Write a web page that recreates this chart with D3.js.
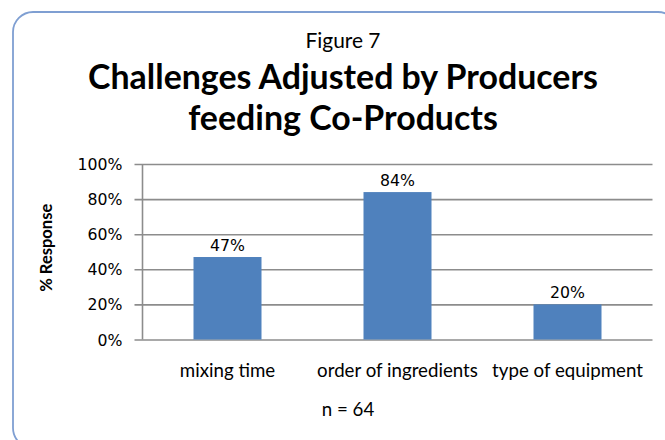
<!DOCTYPE html>
<html>
<head>
<meta charset="utf-8">
<script src="https://cdn.jsdelivr.net/npm/d3@7"></script>
<style>
  body { margin: 0; background: #fff; }
  svg { display: block; }
</style>
</head>
<body>
<div id="chart"></div>
<script>
// chart data
const categories = ["mixing time", "order of ingredients", "type of equipment"];
const responses = [0.47, 0.84, 0.20];
const valueLabels = ["47%", "84%", "20%"];
const yTicks = [0, 0.2, 0.4, 0.6, 0.8, 1.0];
const figureLabel = "Figure 7";
const titleLines = ["Challenges Adjusted by Producers", "feeding Co-Products"];
const yTitle = "% Response";
const footNote = "n = 64";

const width = 665, height = 440;
const margin = {top: 164, right: 12.5, bottom: 100.5, left: 142.5};
const plotW = width - margin.left - margin.right;
const plotH = height - margin.top - margin.bottom;

const svg = d3.select("#chart").append("svg")
    .attr("width", width)
    .attr("height", height);

// outer rounded frame
svg.append("rect")
    .attr("x", 13).attr("y", 12)
    .attr("width", 665).attr("height", 436)
    .attr("rx", 20).attr("ry", 20)
    .attr("fill", "#fff")
    .attr("stroke", "#7f9fd2")
    .attr("stroke-width", 1.8);

// scale a text element's font so it spans a target width
function fitWidth(sel, target) {
    let fs = parseFloat(sel.attr("font-size"));
    let w = sel.node().getComputedTextLength();
    let nfs = +(fs * target / w).toFixed(2);
    sel.attr("font-size", nfs);
    return nfs;
}

const calibri = "Lato, 'Open Sans', sans-serif";
const verdana = "'DejaVu Sans', Verdana, sans-serif";

let fig = svg.append("text")
    .attr("x", 343).attr("y", 48)
    .attr("text-anchor", "middle")
    .attr("font-family", calibri)
    .attr("font-size", 17)
    .text(figureLabel);
fitWidth(fig, 75);

let t1 = svg.append("text")
    .attr("x", 343).attr("y", 89)
    .attr("text-anchor", "middle")
    .attr("font-family", calibri)
    .attr("font-weight", "bold")
    .attr("font-size", 29)
    .text(titleLines[0]);
fitWidth(t1, 510);

svg.append("text")
    .attr("x", 343).attr("y", 130)
    .attr("text-anchor", "middle")
    .attr("font-family", calibri)
    .attr("font-weight", "bold")
    .attr("font-size", t1.attr("font-size"))
    .text(titleLines[1]);

const g = svg.append("g")
    .attr("transform", `translate(${margin.left},${margin.top})`);

const x = d3.scaleBand()
    .domain(categories)
    .range([0, plotW])
    .paddingInner(0.6)
    .paddingOuter(0.3);

const y = d3.scaleLinear()
    .domain([0, 1])
    .range([plotH, 0]);

// gridlines + left ticks
const yAxis = d3.axisLeft(y)
    .tickValues(yTicks)
    .tickFormat(d3.format(".0%"))
    .tickSize(-plotW)
    .tickPadding(20);

const yg = g.append("g").call(yAxis);
yg.select(".domain").remove();
yg.selectAll(".tick line")
    .attr("x1", -8)
    .attr("stroke", "#8c8c8c")
    .attr("stroke-width", 1.6);
yg.selectAll(".tick text")
    .attr("font-family", verdana)
    .attr("font-size", 14.5)
    .attr("fill", "#000")
    .attr("dy", "0.35em");
// size tick font from the widest label
let tickFs = fitWidth(yg.select(".tick:last-of-type text"), 45);
yg.selectAll(".tick text").attr("font-size", tickFs);

// y axis line
g.append("line")
    .attr("x1", 0).attr("x2", 0)
    .attr("y1", 0).attr("y2", plotH)
    .attr("stroke", "#8c8c8c")
    .attr("stroke-width", 1.6);

// bars
g.selectAll("rect.bar")
    .data(responses)
    .enter()
    .append("rect")
    .attr("class", "bar")
    .attr("x", (d, i) => x(categories[i]))
    .attr("y", d => y(d))
    .attr("width", x.bandwidth())
    .attr("height", d => plotH - y(d))
    .attr("fill", "#4f81bd");

// value labels
g.selectAll("text.val")
    .data(responses)
    .enter()
    .append("text")
    .attr("class", "val")
    .attr("x", (d, i) => x(categories[i]) + x.bandwidth() / 2)
    .attr("y", d => y(d) - 6)
    .attr("text-anchor", "middle")
    .attr("font-family", verdana)
    .attr("font-size", tickFs)
    .text((d, i) => valueLabels[i]);

// category labels
let cats = g.selectAll("text.cat")
    .data(categories)
    .enter()
    .append("text")
    .attr("class", "cat")
    .attr("x", d => x(d) + x.bandwidth() / 2)
    .attr("y", plotH + 37)
    .attr("text-anchor", "middle")
    .attr("font-family", calibri)
    .attr("font-size", 15)
    .text(d => d);
let catFs = fitWidth(cats.filter((d, i) => i === 1), 161);
cats.attr("font-size", catFs);

// y title
let yt = svg.append("text")
    .attr("transform", `translate(52,${margin.top + plotH / 2 - 4}) rotate(-90)`)
    .attr("text-anchor", "middle")
    .attr("font-family", calibri)
    .attr("font-weight", "bold")
    .attr("font-size", 14)
    .text(yTitle);
fitWidth(yt, 88);

svg.append("text")
    .attr("x", 348).attr("y", 416)
    .attr("text-anchor", "middle")
    .attr("font-family", calibri)
    .attr("font-size", catFs)
    .text(footNote);
</script>
</body>
</html>
